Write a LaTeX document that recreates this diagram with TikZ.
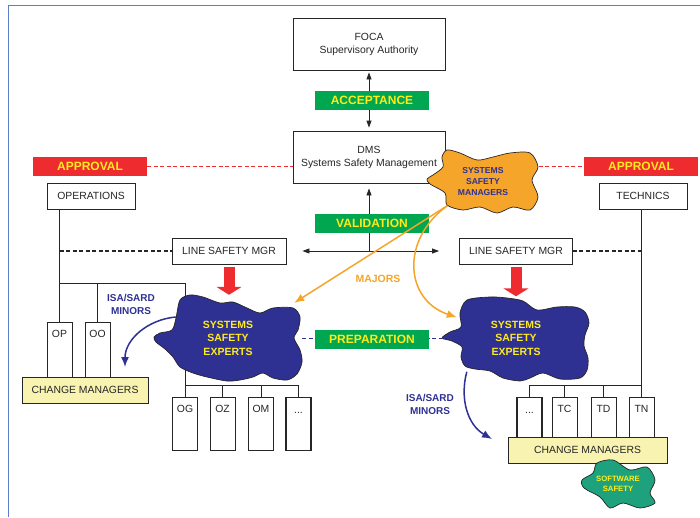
\documentclass[tikz,border=0pt]{standalone}
\usepackage{fontspec}
\setmainfont{Liberation Sans}
\usetikzlibrary{arrows.meta,positioning,calc,backgrounds}
\definecolor{ink}{HTML}{262626}
\definecolor{tagGreen}{HTML}{00A650}
\definecolor{tagRed}{HTML}{EE2B2F}
\definecolor{tagYellow}{HTML}{FFEB1A}
\definecolor{expBlue}{HTML}{2E3192}
\definecolor{mgrOrange}{HTML}{F5A52A}
\definecolor{swGreen}{HTML}{1EA27E}
\definecolor{cmYellow}{HTML}{F8F3B0}
\definecolor{frameBlue}{HTML}{5B7FC7}

\begin{document}
\begin{tikzpicture}[x=1pt,y=-1pt,
    every node/.style={font=\fontsize{10.4}{13}\selectfont,text=ink},
    orgbox/.style={draw=ink,line width=0.8pt,fill=white,align=center,inner sep=2pt},
    tagbox/.style={fill=tagGreen,text=tagYellow,font=\fontsize{12}{14}\selectfont\bfseries,minimum width=114pt,minimum height=19pt,inner sep=0pt},
    redtag/.style={tagbox,fill=tagRed},
    unitbox/.style={draw=ink,line width=0.8pt,fill=white,anchor=north,minimum width=25pt,inner sep=3.5pt,text height=12pt,text depth=#1},
    unitbox/.default=36pt,
    cmbox/.style={orgbox,fill=cmYellow},
    cloudtext/.style={align=center,inner sep=0pt,font=\fontsize{10.5}{13.5}\selectfont\bfseries,text=tagYellow},
    blob/.style={line width=0.7pt,draw=black!85},
    minortext/.style={align=center,font=\fontsize{10}{13}\selectfont\bfseries,text=expBlue},
    wire/.style={line width=0.8pt,draw=ink},
    ctrl/.style={line width=1.2pt,draw=ink,dash pattern=on 4pt off 2.5pt},
    apline/.style={line width=1pt,draw=tagRed,dash pattern=on 4pt off 2.5pt},
    prepline/.style={line width=1pt,draw=expBlue,dash pattern=on 4pt off 2.5pt},
    arr/.style={line width=0.8pt,draw=ink,-{Triangle[length=7pt,width=5pt]}},
    dbl/.style={line width=0.8pt,draw=ink,{Triangle[length=7pt,width=5pt]}-{Triangle[length=7pt,width=5pt]}},
    feed/.style={line width=11pt,draw=tagRed,-{Triangle[length=8pt,width=25pt]}},
    major/.style={line width=1.5pt,draw=mgrOrange,-{Latex[length=10pt,width=8pt]}},
    minor/.style={line width=1.5pt,draw=expBlue,-{Latex[length=10pt,width=8pt]}}
  ]
  \useasboundingbox (0,0) rectangle (700,517);
  \draw[frameBlue,line width=1pt] (8,517) -- (8,5) -- (700,5);

  % authority and management
  \node[orgbox,minimum width=152pt,minimum height=52pt] (foca) at (369,44) {FOCA\\Supervisory Authority};
  \node[orgbox,minimum width=152pt,minimum height=52pt] (dms) at (369,157) {DMS\\Systems Safety Management};
  \node[tagbox] (acc) at (372,100.5) {ACCEPTANCE};
  \node[tagbox] (val) at (372,223) {VALIDATION};
  \node[tagbox] (prep) at (372,339.5) {PREPARATION};
  \node[redtag] (apL) at (90,166.5) {APPROVAL};
  \node[redtag] (apR) at (641,166.5) {APPROVAL};

  % line organisations
  \node[orgbox,minimum width=88pt,minimum height=26pt] (ops) at (91,196) {OPERATIONS};
  \node[orgbox,minimum width=88pt,minimum height=26pt] (tec) at (643,196) {TECHNICS};
  \node[orgbox,minimum width=114pt,minimum height=26pt] (lsmL) at (229,251) {LINE SAFETY MGR};
  \node[orgbox,minimum width=113pt,minimum height=26pt] (lsmR) at (516,251) {LINE SAFETY MGR};

  \node[unitbox] (op) at (59.5,322) {OP};
  \node[unitbox] (oo) at (97.5,322) {OO};
  \node[unitbox=34pt] (og) at (185,397) {OG};
  \node[unitbox=34pt] (oz) at (222.5,397) {OZ};
  \node[unitbox=34pt] (om) at (261,397) {OM};
  \node[unitbox=34pt,line width=1.4pt] (dotsL) at (298.5,397) {...};
  \node[unitbox=21pt,line width=1.4pt] (dotsR) at (529.5,397) {...};
  \node[unitbox=21pt] (tc) at (564.5,397) {TC};
  \node[unitbox=21pt] (td) at (603.5,397) {TD};
  \node[unitbox=21pt] (tn) at (641.5,397) {TN};

  \node[cmbox,minimum width=126pt,minimum height=26pt] (cmL) at (85,390) {CHANGE MANAGERS};
  \node[cmbox,minimum width=159pt,minimum height=26pt] (cmR) at (587.5,450) {CHANGE MANAGERS};

  % clouds
  \draw[blob,fill=mgrOrange] plot[smooth cycle] coordinates {(447,150) (460,153) (477,160) (493,157) (510,153) (530,153) (538,167) (532,180) (538,197) (530,210) (513,207) (497,213) (480,207) (463,210) (447,205) (445,193) (430,184) (427,179) (433,175) (443,167) (442,157)};
  \draw[blob,fill=expBlue] plot[smooth cycle] coordinates {(180,300) (190,295) (203,297) (220,303) (233,302) (247,308) (260,313) (273,308) (293,308) (300,317) (298,330) (294,338) (300,350) (302,362) (297,374) (287,380) (273,378) (263,373) (253,377) (240,380) (227,381) (207,377) (193,373) (180,367) (173,357) (165,349) (156,342) (154,337) (160,333) (172,330) (176,318)};
  \draw[blob,fill=expBlue] plot[smooth cycle] coordinates {(467,300) (490,297) (507,298) (523,301) (537,310) (557,307) (575,307) (585,312) (589,323) (585,335) (584,346) (588,358) (587,370) (580,378) (560,379) (543,373) (530,378) (520,381) (503,378) (490,371) (475,369) (465,366) (461,357) (462,347) (452,341) (442,338) (450,332) (461,327) (460,313)};
  \draw[blob,fill=swGreen] plot[smooth cycle] coordinates {(597,463) (613,460) (630,470) (647,467) (655,480) (650,493) (655,503) (640,508) (623,503) (610,508) (600,497) (584,488) (582,480) (593,473)};

  \node[cloudtext,minimum width=111pt,minimum height=63pt,text=expBlue,font=\fontsize{8.6}{11}\selectfont\bfseries] (mgrs) at (483,182) {SYSTEMS\\SAFETY\\MANAGERS};
  \node[cloudtext,minimum width=148pt,minimum height=86pt] (expL) at (228,338) {SYSTEMS\\SAFETY\\EXPERTS};
  \node[cloudtext,minimum width=148pt,minimum height=83pt] (expR) at (516,338) {SYSTEMS\\SAFETY\\EXPERTS};
  \node[cloudtext,minimum width=73pt,minimum height=48pt,font=\fontsize{7.7}{10}\selectfont\bfseries] (sws) at (618,484) {SOFTWARE\\SAFETY};

  \node[minortext] (minL) at (131,304.5) {ISA/SARD\\MINORS};
  \node[minortext] (minR) at (430,404.5) {ISA/SARD\\MINORS};
  \node[font=\fontsize{10.5}{13}\selectfont\bfseries,text=mgrOrange] (majors) at (378,279) {MAJORS};

  \begin{scope}[on background layer]
    \draw[dbl,shorten <=2pt,shorten >=3pt] (foca.south) -- (dms.north);
    \coordinate (hub) at (dms.south |- lsmL.east);
    \draw[arr,shorten >=5pt] (hub) -- (dms.south);
    \draw[dbl] ([xshift=16pt]lsmL.east) -- ([xshift=-20pt]lsmR.west);
    \draw[apline] (apL.east) -- (apL.east -| dms.west);
    \draw[apline] (apR.west -| mgrs.east) -- (apR.west);
    \draw[prepline] (expL.east) -- (expR.west);
    \draw[ctrl] (op.north |- lsmL.west) -- (lsmL.west);
    \draw[ctrl] (lsmR.east) -- (lsmR.east -| tn.north);
    % operations side
    \draw[wire] (op.north) -- (op.north |- ops.south);
    \draw[wire] (op.north |- 0,283) -| (expL.center -| og.north);
    \draw[wire] (oo.north) -- (oo.north |- 0,283);
    \draw[wire] (expL.center -| og.north) -- (og.north);
    \draw[wire] (og.north |- 0,385) -| (dotsL.north);
    \draw[wire] (oz.north) -- (oz.north |- 0,385);
    \draw[wire] (om.north) -- (om.north |- 0,385);
    % technics side
    \draw[wire] (tn.north) -- (tn.north |- tec.south);
    \draw[wire] (tn.north |- 0,385) -| (dotsR.north);
    \draw[wire] (tc.north) -- (tc.north |- 0,385);
    \draw[wire] (td.north) -- (td.north |- 0,385);
  \end{scope}

  \draw[feed] ([yshift=-3pt]lsmL.south) -- (lsmL.south |- expL.north);
  \draw[feed] ([yshift=-3pt]lsmR.south) -- (lsmR.south |- expR.north);

  \draw[major] ([xshift=20pt,yshift=8pt]mgrs.south west) -- ([xshift=-8pt,yshift=-8pt]expL.north east);
  \draw[major] ([xshift=20pt,yshift=8pt]mgrs.south west) .. controls (400,240) and (405,300) .. ([xshift=15pt,yshift=-21pt]expR.north west);

  \coordinate (minLend) at (125,367);
  \coordinate (minRend) at (492,439);
  \draw[minor] ([xshift=22pt,yshift=21pt]expL.west) to[out=185,in=90] (minLend);
  \draw[minor] ([xshift=25pt,yshift=8pt]expR.south west) to[out=255,in=150] (minRend);
\end{tikzpicture}
\end{document}
